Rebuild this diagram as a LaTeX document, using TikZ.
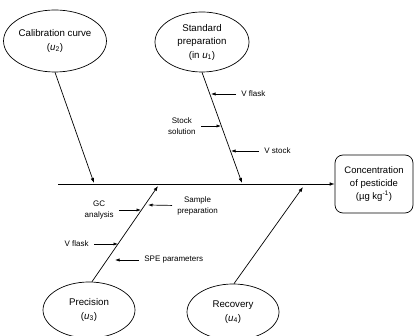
\documentclass[tikz,border=0pt]{standalone}
\usepackage{fontspec}
\setmainfont{Liberation Sans}
\usetikzlibrary{shapes.geometric, arrows.meta}

\begin{document}
\begin{tikzpicture}[x=1pt, y=-1pt, line width=0.7pt,
  cause/.style={ellipse, draw, inner sep=0pt, align=center, font=\fontsize{9.7}{13.5}\selectfont},
  bone/.style={-{Latex[length=5pt,width=3.6pt]}},
  sub/.style={-{Latex[length=4.5pt,width=3.2pt]}, shorten <=4pt},
  lbl/.style={font=\fontsize{8}{11}\selectfont, align=center, inner sep=1pt}]
\useasboundingbox (0,0) rectangle (415,336);

% Sources of uncertainty
\node[cause, minimum width=94, minimum height=62] (calib) at (55,41) {Calibration curve\\(\textit{u}\textsubscript{2})};
\node[cause, minimum width=94, minimum height=60] (stdprep) at (202,42) {Standard\\preparation\\(in \textit{u}\textsubscript{1})};
\node[cause, minimum width=92, minimum height=56] (prec) at (89,310) {Precision\\(\textit{u}\textsubscript{3})};
\node[cause, minimum width=92, minimum height=56] (recov) at (233,312) {Recovery\\(\textit{u}\textsubscript{4})};

% Result
\node[draw, rounded corners=8pt, minimum width=78, minimum height=58, align=center,
  font=\fontsize{9.5}{13}\selectfont] (conc) at (374,184) {Concentration\\of pesticide\\(µg kg\textsuperscript{-1})};

% Main axis
\coordinate (tail) at (58,184);
\draw[bone] (tail) -- (conc.west);

% Branches
\coordinate (c1) at (242,183);
\coordinate (c2) at (94,183);
\coordinate (c3) at (158,186);
\coordinate (c4) at (303,187);
\draw[bone] (stdprep.south) -- (c1);
\draw[bone] (calib.south) -- (c2);
\draw[bone] (prec.84) -- (c3);
\draw[bone] (recov.88) -- (c4);

% Contributions on the standard preparation branch
\node[lbl, anchor=west] (vflask1) at (240,94) {V flask};
\node[lbl, anchor=east] (stock) at (197,126) {Stock\\solution};
\node[lbl, anchor=west] (vstock) at (263,151) {V stock};
\coordinate (t1) at (211,94);
\coordinate (t2) at (221,126);
\coordinate (t3) at (231,151);
\draw[sub] (vflask1.west) -- (t1);
\draw[sub] (stock.east) -- (t2);
\draw[sub] (vstock.west) -- (t3);

% Contributions on the precision branch
\node[lbl, anchor=east] (gc) at (115,210) {GC\\analysis};
\node[lbl, anchor=west] (sample) at (176,205.5) {Sample\\preparation};
\node[lbl, anchor=east] (vflask2) at (90,244) {V flask};
\node[lbl, anchor=west] (spe) at (143,260) {SPE parameters};
\coordinate (t4) at (141,210);
\coordinate (t5) at (148,205);
\coordinate (t6) at (118,244);
\coordinate (t7) at (115,260);
\draw[sub] (gc.east) -- (t4);
\draw[sub] (sample.west) -- (t5);
\draw[sub] (vflask2.east) -- (t6);
\draw[sub] (spe.west) -- (t7);
\end{tikzpicture}
\end{document}
